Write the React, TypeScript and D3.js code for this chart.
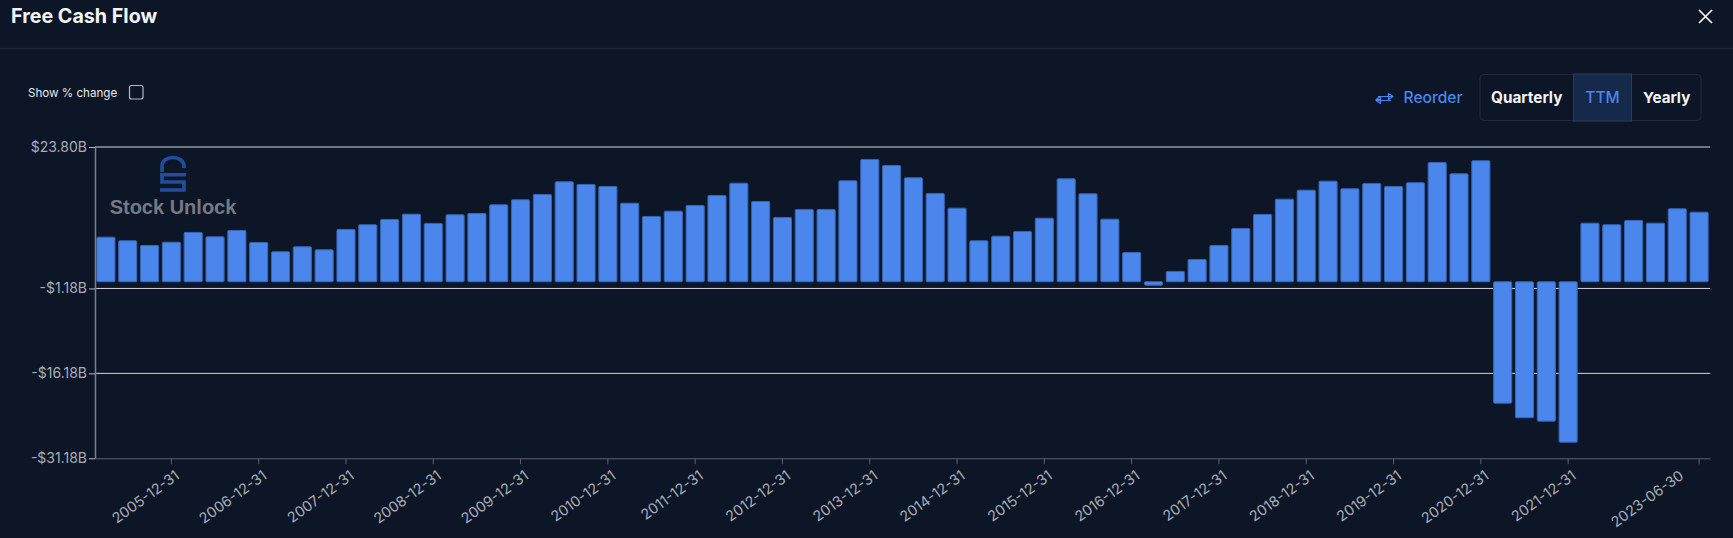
import React, { useRef, useEffect } from "react";
import * as d3 from "d3";

const periods = [
  "2005-03-31", "2005-06-30", "2005-09-30", "2005-12-31",
  "2006-03-31", "2006-06-30", "2006-09-30", "2006-12-31",
  "2007-03-31", "2007-06-30", "2007-09-30", "2007-12-31",
  "2008-03-31", "2008-06-30", "2008-09-30", "2008-12-31",
  "2009-03-31", "2009-06-30", "2009-09-30", "2009-12-31",
  "2010-03-31", "2010-06-30", "2010-09-30", "2010-12-31",
  "2011-03-31", "2011-06-30", "2011-09-30", "2011-12-31",
  "2012-03-31", "2012-06-30", "2012-09-30", "2012-12-31",
  "2013-03-31", "2013-06-30", "2013-09-30", "2013-12-31",
  "2014-03-31", "2014-06-30", "2014-09-30", "2014-12-31",
  "2015-03-31", "2015-06-30", "2015-09-30", "2015-12-31",
  "2016-03-31", "2016-06-30", "2016-09-30", "2016-12-31",
  "2017-03-31", "2017-06-30", "2017-09-30", "2017-12-31",
  "2018-03-31", "2018-06-30", "2018-09-30", "2018-12-31",
  "2019-03-31", "2019-06-30", "2019-09-30", "2019-12-31",
  "2020-03-31", "2020-06-30", "2020-09-30", "2020-12-31",
  "2021-03-31", "2021-06-30", "2021-09-30", "2021-12-31",
  "2022-03-31", "2022-06-30", "2022-09-30", "2022-12-31",
  "2023-03-31", "2023-06-30",
];

// free cash flow in $B
const freeCashFlow = [
  7.88, 7.24, 6.41, 6.99, 8.71, 7.95, 9.06, 6.94, 5.3, 6.18, 5.65, 9.24, 10.07, 11.0,
  11.94, 10.3, 11.83, 12.06, 13.6, 14.48, 15.42, 17.66, 17.18, 16.83, 13.88, 11.53,
  12.47, 13.48, 15.24, 17.41, 14.18, 11.36, 12.77, 12.77, 17.84, 21.6, 20.54, 18.37,
  15.6, 13.0, 7.24, 8.05, 8.88, 11.23, 18.19, 15.54, 11.06, 5.17, -0.6, 1.82, 3.94,
  6.41, 9.41, 11.89, 14.59, 16.18, 17.77, 16.43, 17.36, 16.83, 17.49, 21.07, 19.07,
  21.37, -21.44, -24.02, -24.62, -28.33, 10.35, 10.07, 10.83, 10.35, 12.89, 12.29,
];

const yTicks = [23.8, -1.18, -16.18, -31.18];
const xTickLabels = [
  "2005-12-31", "2006-12-31", "2007-12-31", "2008-12-31", "2009-12-31", "2010-12-31",
  "2011-12-31", "2012-12-31", "2013-12-31", "2014-12-31", "2015-12-31", "2016-12-31",
  "2017-12-31", "2018-12-31", "2019-12-31", "2020-12-31", "2021-12-31", "2023-06-30",
];

const font = "Inter, sans-serif";
const bg = "#0d1626";
const blue = "#4a86eb";

const formatBillions = (v: number) =>
  `${v < 0 ? "-" : ""}$${Math.abs(v).toFixed(2)}B`;

const App: React.FC = () => {
  const ref = useRef<SVGSVGElement | null>(null);

  useEffect(() => {
    document.body.style.margin = "0";
    document.body.style.background = bg;

    const svg = d3.select(ref.current);
    svg.selectAll("*").remove();

    const left = 95;
    const right = 1710;
    const top = 147;
    const bottom = 458.3;

    const x = d3.scaleBand<string>().domain(periods).range([left, right]).paddingInner(0.17).paddingOuter(0.085);
    const y = d3.scaleLinear().domain([yTicks[3], yTicks[0]]).range([bottom, top]);

    // grid
    svg
      .append("g")
      .selectAll("line")
      .data(yTicks.slice(0, 3))
      .join("line")
      .attr("x1", left)
      .attr("x2", right)
      .attr("y1", (d) => y(d))
      .attr("y2", (d) => y(d))
      .attr("stroke", "#d5d7da")
      .attr("stroke-width", 1);

    // bars
    svg
      .append("g")
      .selectAll("rect")
      .data(freeCashFlow)
      .join("rect")
      .attr("x", (_, i) => x(periods[i]) as number)
      .attr("width", x.bandwidth())
      .attr("y", (d) => Math.min(y(d), y(0)))
      .attr("height", (d) => Math.abs(y(d) - y(0)))
      .attr("rx", 1)
      .attr("fill", blue)
      .attr("stroke", "#3565b4")
      .attr("stroke-width", 1);

    // axes
    const yAxis = d3
      .axisLeft(y)
      .tickValues(yTicks)
      .tickFormat((d) => formatBillions(d as number))
      .tickSize(6)
      .tickSizeOuter(0)
      .tickPadding(2);
    const yG = svg.append("g").attr("transform", `translate(${left},0)`).call(yAxis);
    yG.select(".domain").attr("stroke", "#7a7f8a").attr("stroke-width", 1.5);
    yG.selectAll(".tick line").attr("stroke", "#b9bcc2");
    yG.selectAll("text")
      .attr("fill", "#a8adb6")
      .style("font-family", font)
      .style("font-size", "14px");

    const xAxis = d3.axisBottom(x).tickValues(xTickLabels).tickSize(6).tickSizeOuter(0);
    const xG = svg.append("g").attr("transform", `translate(0,${bottom})`).call(xAxis);
    xG.select(".domain").attr("stroke", "#5d626d").attr("stroke-width", 1);
    xG.selectAll(".tick line").attr("stroke", "#5d626d");
    xG.selectAll<SVGTextElement, string>("text")
      .attr("fill", "#a8adb6")
      .attr("text-anchor", "end")
      .attr("x", 0)
      .attr("y", 0)
      .attr("dy", 0)
      // the last label is pulled left so that it stays inside the plot
      .attr("transform", (d) =>
        d === xTickLabels[xTickLabels.length - 1]
          ? "translate(-14.5,19.5) rotate(-36)"
          : "translate(9,19.5) rotate(-36)"
      )
      .style("font-family", font)
      .style("font-size", "14.5px");

    // watermark
    const logo = svg.append("g").attr("fill", "none").attr("stroke", "#1f4f9e").attr("stroke-width", 3.6);
    logo.append("path").attr("d", "M162 172 V166 A11 8.5 0 0 1 184 166 V168");
    logo.append("path").attr("d", "M160 174.8 H186 M162 174.8 V182 H184 V190 H160");
    svg
      .append("text")
      .attr("x", 173)
      .attr("y", 214)
      .attr("text-anchor", "middle")
      .attr("fill", "#757a84")
      .style("font-family", "'Liberation Sans', Arial, sans-serif")
      .style("font-weight", 700)
      .style("font-size", "20px")
      .text("Stock Unlock");
  }, []);

  const labelStyle = { fontFamily: font };

  return (
    <svg
      width={1733}
      height={538}
      style={{ display: "block", position: "absolute", top: 0, left: 0, background: bg }}
    >
      <text x={11} y={23} fill="#f2f4f7" fontSize={19.7} fontWeight={700} style={labelStyle}>
        Free Cash Flow
      </text>
      <path d="M1699 10 L1712 23 M1712 10 L1699 23" stroke="#fff" strokeWidth={1.6} />
      <line x1={0} x2={1733} y1={48.5} y2={48.5} stroke="#1d2635" strokeWidth={1.5} />

      <text x={28} y={97} fill="#e5e7eb" fontSize={11.6} style={labelStyle}>
        Show % change
      </text>
      <rect x={129.5} y={85.5} width={13.5} height={13.5} rx={2} fill="none" stroke="#b4b8bf" strokeWidth={1.2} />

      <path
        d="M1380 99.5 H1376 L1380.5 96.5 V103.5 L1376 100.5 H1391 M1389 96.5 H1393 L1388.5 93.5 V99.5 L1393 96.5 H1378"
        stroke={blue}
        strokeWidth={1.2}
        fill="none"
        strokeLinejoin="round"
      />
      <text x={1403.5} y={103} fill={blue} fontSize={15.6} fontWeight={500} style={labelStyle}>
        Reorder
      </text>

      <rect x={1480} y={74.5} width={221} height={46} rx={4} fill="none" stroke="#1f2a3a" />
      <rect x={1573.5} y={74} width={58} height={47} fill="#15294a" stroke="#2a3c5a" />
      <text x={1491} y={103} fill="#f2f4f7" fontSize={15.3} fontWeight={700} style={labelStyle}>
        Quarterly
      </text>
      <text x={1602.5} y={103} textAnchor="middle" fill={blue} fontSize={15.5} fontWeight={500} style={labelStyle}>
        TTM
      </text>
      <text x={1643} y={103} fill="#f2f4f7" fontSize={15.2} fontWeight={700} style={labelStyle}>
        Yearly
      </text>

      <g ref={ref as any} />
    </svg>
  );
};

export default App;
